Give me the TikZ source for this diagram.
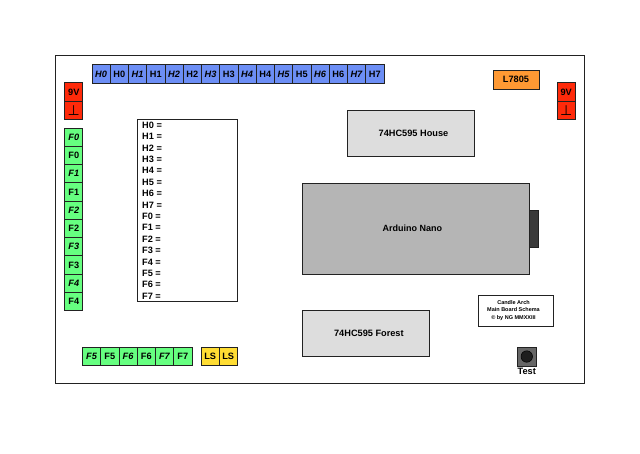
\documentclass[tikz,border=0pt]{standalone}
\usepackage{fontspec}
\setmainfont{Liberation Sans}
\newfontfamily\symfont{DejaVu Sans}
\definecolor{hblue}{HTML}{6C8EF5}
\definecolor{fgreen}{HTML}{66FF80}
\definecolor{pred}{HTML}{FF2A0A}
\definecolor{lsyellow}{HTML}{FFDD33}
\definecolor{regorange}{HTML}{FF9933}
\definecolor{chipgrey}{HTML}{DDDDDD}
\definecolor{nanogrey}{HTML}{B5B5B5}
\definecolor{usbgrey}{HTML}{3A3A3A}
\definecolor{btngrey}{HTML}{666666}
\definecolor{btnblack}{HTML}{1E1E1E}
\definecolor{linegrey}{HTML}{222222}
\tikzset{
  box/.style={draw=linegrey,line width=0.9pt,inner sep=0pt,outer sep=0pt,font=\fontsize{9.2}{10}\selectfont\bfseries,align=center},
  pin/.style={box,minimum width=18.25pt,minimum height=18.25pt},
  hpin/.style={pin,fill=hblue},
  fpin/.style={pin,fill=fgreen},
  ppin/.style={pin,fill=pred},
  lspin/.style={pin,fill=lsyellow},
  chip/.style={box,fill=chipgrey},
  gnd/.style={font=\symfont\fontsize{14}{14}\selectfont},
}
\begin{document}
\begin{tikzpicture}[x=1pt,y=-1pt]
\useasboundingbox (0,0) rectangle (640,453);
\node[box,minimum width=529pt,minimum height=327.5pt] (board) at (320,219.25) {};
% H header
\foreach \n/\t [count=\i from 0] in {a/\textit{H0},b/H0,c/\textit{H1},d/H1,e/\textit{H2},f/H2,g/\textit{H3},h/H3,i/\textit{H4},j/H4,k/\textit{H5},l/H5,m/\textit{H6},n/H6,o/\textit{H7},p/H7}
  \node[hpin] (h\n) at ({101.1+18.25*\i},74) {\t};
% F header, left
\foreach \n/\t [count=\i from 0] in {a/\textit{F0},b/F0,c/\textit{F1},d/F1,e/\textit{F2},f/F2,g/\textit{F3},h/F3,i/\textit{F4},j/F4}
  \node[fpin] (f\n) at (73.8,{137.1+18.25*\i}) {\t};
% F header, bottom
\foreach \n/\t [count=\i from 0] in {k/\textit{F5},l/F5,m/\textit{F6},n/F6,o/\textit{F7},p/F7}
  \node[fpin] (f\n) at ({91.6+18.25*\i},356.2) {\t};
% LS
\node[lspin] (lsa) at (210.2,356.2) {LS};
\node[lspin] (lsb) at (228.2,356.2) {LS};
% power
\node[ppin] (pa) at (73.8,92) {9V};
\node[ppin,gnd] (pb) at (73.8,110.25) {\raisebox{-1.5pt}{⊥}};
\node[ppin] (pc) at (566.2,92) {9V};
\node[ppin,gnd] (pd) at (566.2,110.25) {\raisebox{-1.5pt}{⊥}};
% list
\node[box,minimum width=100pt,minimum height=182pt] (list) at (187.6,210.5) {};
\foreach \t [count=\i from 0] in {H0,H1,H2,H3,H4,H5,H6,H7,F0,F1,F2,F3,F4,F5,F6,F7}
  \node[font=\fontsize{9.2}{10}\selectfont\bfseries,anchor=west,inner sep=0pt] (t\i) at (142,{125.2+11.4*\i}) {\t\ =};
% parts
\node[box,fill=regorange,minimum width=46pt,minimum height=18.5pt] (reg) at (516,79.75) {L7805};
\node[chip,minimum width=127pt,minimum height=46pt] (house) at (411,133) {\hspace*{5pt}74HC595 House};
\node[box,fill=usbgrey,minimum width=9pt,minimum height=37pt] (usb) at (534.3,228.5) {};
\node[box,fill=nanogrey,minimum width=227.5pt,minimum height=91pt] (nano) at (415.9,228.5) {\fontsize{9}{10}\selectfont Arduino Nano\hspace*{7pt}};
\node[chip,minimum width=127.5pt,minimum height=46pt] (forest) at (365.9,333) {\hspace*{6pt}74HC595 Forest};
\node[box,minimum width=75.5pt,minimum height=31.5pt] (cap) at (515.9,310.75) {};
\node[font=\fontsize{5.5}{7.7}\selectfont\bfseries,align=center,inner sep=0pt] (captext) at (513.5,310.3) {Candle Arch\\Main Board Schema\\© by NG MMXXIII};
\node[box,fill=btngrey,minimum width=18.5pt,minimum height=19pt] (btn) at (526.75,356.5) {};
\node[circle,fill=btnblack,draw=black,line width=0.5pt,minimum size=11.5pt,inner sep=0pt] (knob) at (526.75,356.5) {};
\node[font=\fontsize{9.2}{10}\selectfont\bfseries,inner sep=0pt] (test) at (526.75,371) {Test};
\end{tikzpicture}
\end{document}
